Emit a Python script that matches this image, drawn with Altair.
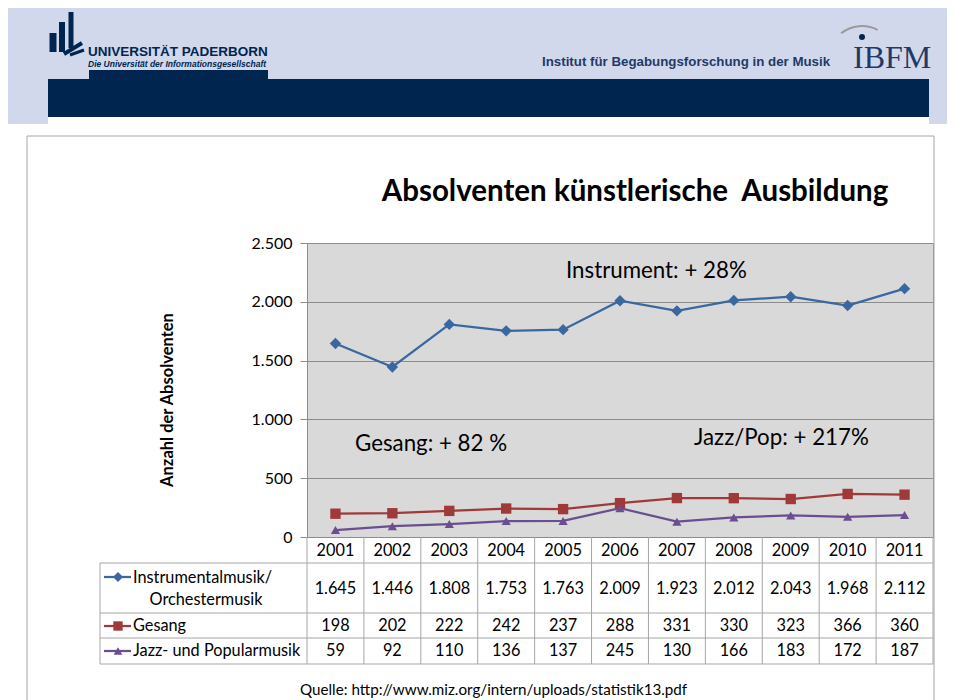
import altair as alt
import pandas as pd

# ---------------- data ----------------
years = [2001, 2002, 2003, 2004, 2005, 2006, 2007, 2008, 2009, 2010, 2011]
instrument = [1645, 1446, 1808, 1753, 1763, 2009, 1923, 2012, 2043, 1968, 2112]
gesang = [198, 202, 222, 242, 237, 288, 331, 330, 323, 366, 360]
jazz = [59, 92, 110, 136, 137, 245, 130, 166, 183, 172, 187]
series_names = ["Instrumentalmusik/Orchestermusik", "Gesang", "Jazz- und Popularmusik"]
series_values = [instrument, gesang, jazz]
y_ticks = [0, 500, 1000, 1500, 2000, 2500]

title_text = "Absolventen künstlerische \u00a0Ausbildung"
y_title = "Anzahl der Absolventen"
notes = ["Instrument: + 28%", "Gesang: + 82 %", "Jazz/Pop: + 217%"]
source_text = "Quelle: http://www.miz.org/intern/uploads/statistik13.pdf"

# ---------------- style / layout ----------------
colors = ["#3A67A0", "#A0393A", "#6B4E90"]
shapes = ["diamond", "square", "triangle-up"]
sizes = [130, 85, 110]
FONT = "Lato"
NAVY = "#00264F"
LAV = "#D2D8EB"
GRID = "#8C8C8C"
TGRID = "#A6A6A6"
TFS = 16.3  # table font size

W, H = 626, 294
OX, OY = 307, 243  # page position of plot origin
SVG_W, SVG_H = 939, 692


def rx(x):
    return x - OX


def ry(y):
    return y - OY


def de(v):
    return f"{v:,}".replace(",", ".")


rows_y = {series_names[0]: ry(589), series_names[1]: ry(626), series_names[2]: ry(651)}

recs = []
for name, vals in zip(series_names, series_values):
    for yr, v in zip(years, vals):
        recs.append({"year": yr, "series": name, "value": v, "label": de(v), "row": rows_y[name]})
long_df = pd.DataFrame(recs)

xscale = alt.Scale(type="point", domain=years, padding=0.5)
yscale = alt.Scale(domain=[0, 2500])
cscale = alt.Scale(domain=series_names, range=colors)
sscale = alt.Scale(domain=series_names, range=shapes)
zscale = alt.Scale(domain=series_names, range=sizes)

PX = lambda f: alt.X(f, type="quantitative", scale=None)
PY = lambda f: alt.Y(f, type="quantitative", scale=None)

# ---------------- header / frame rects ----------------
rects = pd.DataFrame([
    {"x": rx(7), "x2": rx(956), "y": ry(5), "y2": ry(124), "f": LAV},
    {"x": rx(48), "x2": rx(929), "y": ry(117), "y2": ry(125), "f": "#FFFFFF"},
    {"x": rx(48), "x2": rx(929), "y": ry(79), "y2": ry(117), "f": NAVY},
    {"x": rx(89), "x2": rx(268), "y": ry(70), "y2": ry(79), "f": NAVY},
])
rect_layer = alt.Chart(rects).mark_rect().encode(
    x=PX("x"), x2="x2:Q", y=PY("y"), y2="y2:Q", color=alt.Color("f:N", scale=None)
)

frame = alt.Chart(pd.DataFrame([{"x": rx(27), "x2": rx(934), "y": ry(136), "y2": ry(720)}])).mark_rect(
    fill=None, stroke="#A6A6A6", strokeWidth=1
).encode(x=PX("x"), x2="x2:Q", y=PY("y"), y2="y2:Q")

# logo strokes
logo = pd.DataFrame([
    {"x": rx(53), "y": ry(52), "x2": rx(53), "y2": ry(33), "w": 7},
    {"x": rx(62), "y": ry(52), "x2": rx(62), "y2": ry(22), "w": 6},
    {"x": rx(71), "y": ry(48), "x2": rx(71), "y2": ry(12), "w": 5},
    {"x": rx(64), "y": ry(54), "x2": rx(82), "y2": ry(43), "w": 4},
    {"x": rx(70), "y": ry(55), "x2": rx(84), "y2": ry(50), "w": 3},
])
logo_layer = alt.Chart(logo).mark_rule(color=NAVY).encode(
    x=PX("x"), x2="x2:Q", y=PY("y"), y2="y2:Q", strokeWidth=alt.StrokeWidth("w:Q", scale=None)
)

arc_layer = alt.Chart(pd.DataFrame([{"a": 1}])).mark_arc(
    color="#9A9A9A", radius=35, radius2=33, theta=5.62, theta2=6.76
).encode(x=alt.value(rx(862)), y=alt.value(ry(60)))
dot_layer = alt.Chart(pd.DataFrame([{"a": 1}])).mark_circle(color=NAVY, size=36, opacity=1).encode(
    x=alt.value(rx(862)), y=alt.value(ry(37))
)


def txt(items, **kw):
    df = pd.DataFrame(items)
    return alt.Chart(df).mark_text(**kw).encode(x=PX("x"), y=PY("y"), text="t:N")


uni = txt([{"x": rx(88), "y": ry(56), "t": "UNIVERSITÄT PADERBORN"}],
          font="Liberation Sans", fontSize=13.5, fontWeight="bold",
          color=NAVY, align="left", baseline="alphabetic")
uni_sub = txt([{"x": rx(88), "y": ry(67), "t": "Die Universität der Informationsgesellschaft"}],
              font="Liberation Sans", fontSize=8.5, fontWeight="bold",
              fontStyle="italic", color=NAVY, align="left", baseline="alphabetic")
inst = txt([{"x": rx(542), "y": ry(66), "t": "Institut für Begabungsforschung in der Musik"}],
           font="Liberation Sans", fontSize=13.3, fontWeight="bold",
           color="#1F3A68", align="left", baseline="alphabetic")
ibfm = txt([{"x": rx(853), "y": ry(68), "t": "IBFM"}],
           font="Liberation Serif", fontSize=32, color="#1F3A68", align="left", baseline="alphabetic")

title = txt([{"x": rx(635), "y": ry(201), "t": title_text}],
            font=FONT, fontSize=29.5, fontWeight="bold", color="black", align="center", baseline="alphabetic")
ytitle = txt([{"x": rx(168), "y": ry(400), "t": y_title}],
             font=FONT, fontSize=16.5, fontWeight="bold", color="black", align="center",
             baseline="middle", angle=270)
note_layer = txt([
    {"x": rx(566), "y": ry(278), "t": notes[0]},
    {"x": rx(355), "y": ry(451), "t": notes[1]},
    {"x": rx(694), "y": ry(445), "t": notes[2]},
], font=FONT, fontSize=22.3, color="black", align="left", baseline="alphabetic")
source = txt([{"x": rx(300), "y": ry(695), "t": source_text}],
             font=FONT, fontSize=15.2, color="black", align="left", baseline="alphabetic")

# ---------------- table grid ----------------
grid_rules = []
for k in range(12):
    xk = k * W / 11
    grid_rules.append({"x": xk, "x2": xk, "y": H, "y2": ry(664)})
for yy in [563, 613, 638, 664]:
    grid_rules.append({"x": rx(100), "x2": W, "y": ry(yy), "y2": ry(yy)})
grid_rules.append({"x": rx(100), "x2": rx(100), "y": ry(563), "y2": ry(664)})
grid_layer = alt.Chart(pd.DataFrame(grid_rules)).mark_rule(color=TGRID, strokeWidth=1).encode(
    x=PX("x"), x2="x2:Q", y=PY("y"), y2="y2:Q"
)

year_text = alt.Chart(pd.DataFrame({"year": years})).mark_text(
    font=FONT, fontSize=TFS, color="black"
).encode(x=alt.X("year:O", scale=xscale, axis=None), y=alt.value(ry(551)), text="year:N")

value_text = alt.Chart(long_df).mark_text(font=FONT, fontSize=TFS, color="black").encode(
    x=alt.X("year:O", scale=xscale, axis=None), y=PY("row"), text="label:N"
)

row_labels = txt([
    {"x": rx(133), "y": ry(578), "t": "Instrumentalmusik/"},
    {"x": rx(133), "y": ry(626), "t": "Gesang"},
    {"x": rx(133), "y": ry(651), "t": "Jazz- und Popularmusik"},
], font=FONT, fontSize=TFS, color="black", align="left", baseline="middle")
row_label2 = txt([{"x": rx(206), "y": ry(600), "t": "Orchestermusik"}],
                 font=FONT, fontSize=TFS, color="black", align="center", baseline="middle")

sym_y = [ry(577), ry(626), ry(651)]
sym_df = pd.DataFrame({"series": series_names, "y": sym_y, "x": [rx(104)] * 3, "x2": [rx(131)] * 3,
                       "xm": [rx(118)] * 3})
sym_lines = alt.Chart(sym_df).mark_rule(strokeWidth=2.25).encode(
    x=PX("x"), x2="x2:Q", y=PY("y"),
    color=alt.Color("series:N", scale=cscale, legend=None)
)
sym_pts = alt.Chart(sym_df).mark_point(filled=True, opacity=1).encode(
    x=PX("xm"), y=PY("y"),
    color=alt.Color("series:N", scale=cscale, legend=None),
    shape=alt.Shape("series:N", scale=sscale, legend=None),
    size=alt.Size("series:N", scale=alt.Scale(domain=series_names, range=[100, 75, 90]), legend=None),
)

# ---------------- data marks ----------------
yaxis = alt.Axis(values=y_ticks, title=None, labelExpr="replace(format(datum.value, ','), ',', '.')",
                 grid=True)
lines = alt.Chart(long_df).mark_line(strokeWidth=2.25).encode(
    x=alt.X("year:O", scale=xscale, axis=None),
    y=alt.Y("value:Q", scale=yscale, axis=yaxis),
    color=alt.Color("series:N", scale=cscale, legend=None),
    detail="series:N",
)
points = alt.Chart(long_df).mark_point(filled=True, opacity=1).encode(
    x=alt.X("year:O", scale=xscale, axis=None),
    y=alt.Y("value:Q", scale=yscale),
    color=alt.Color("series:N", scale=cscale, legend=None),
    shape=alt.Shape("series:N", scale=sscale, legend=None),
    size=alt.Size("series:N", scale=zscale, legend=None),
)

chart = alt.layer(
    rect_layer, frame, logo_layer, arc_layer, dot_layer, uni, uni_sub, inst, ibfm,
    title, ytitle, grid_layer, year_text, value_text, row_labels, row_label2,
    sym_lines, sym_pts, lines, points, note_layer, source,
).properties(
    width=W, height=H,
    padding={"left": OX - 8, "top": OY - 8, "right": SVG_W - (OX - 8) - W, "bottom": SVG_H - (OY - 8) - H},
    autosize=alt.AutoSizeParams(type="none"),
    background="white",
).resolve_scale(
    size="independent"
).configure_view(
    fill="#D9D9D9", stroke=GRID, strokeWidth=1
).configure_axis(
    labelFont=FONT, labelFontSize=16, labelColor="black", domainColor=GRID, tickColor=GRID,
    tickSize=7, gridColor=GRID, labelPadding=8, domainWidth=1, gridWidth=1,
)

chart.save("out.html", embed_options={"renderer": "svg", "actions": False})
